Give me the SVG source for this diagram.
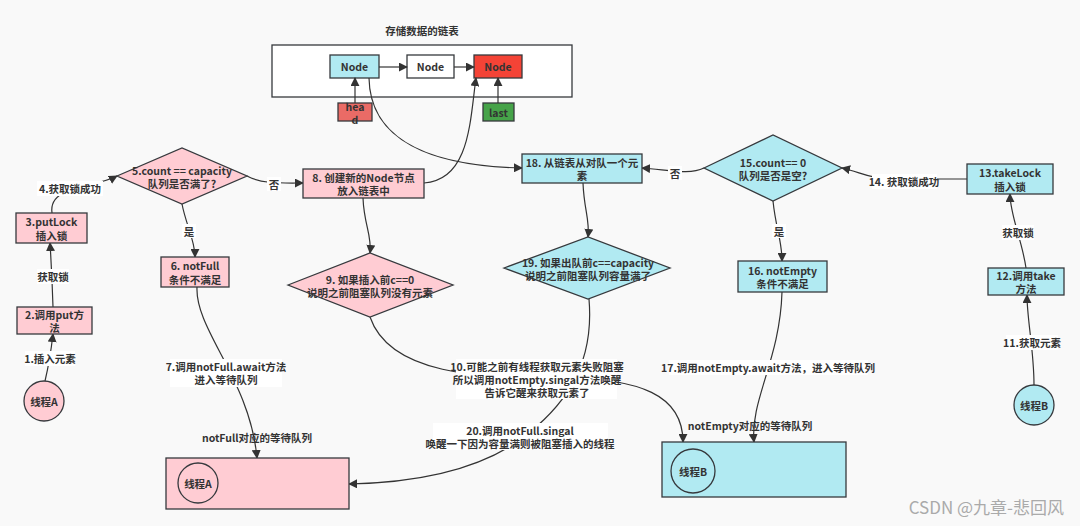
<svg xmlns="http://www.w3.org/2000/svg" width="1080" height="526" viewBox="0 0 1080 526">
<defs>
<marker id="arr" viewBox="0 0 10 10" refX="9" refY="5" markerWidth="9" markerHeight="9" markerUnits="userSpaceOnUse" orient="auto">
<path d="M0,0 L10,5 L0,10 Z" fill="#333"/>
</marker>
<style>
text{font-family:"Noto Sans CJK SC","Noto Sans",sans-serif;font-size:10.5px;font-weight:bold;fill:#333;text-anchor:middle;dominant-baseline:central}
.pink{fill:#ffccd3;stroke:#36393d;stroke-width:1.3}
.cyan{fill:#b1eaf2;stroke:#36393d;stroke-width:1.3}
.white{fill:#fff;stroke:#36393d;stroke-width:1.3}
.conn path{fill:none;stroke:#333;stroke-width:1.2;marker-end:url(#arr)}
.lbg{fill:#fff}
</style>
</defs>
<rect width="1080" height="526" fill="#f9f9f9"/>

<g id="list">
<text x="422" y="30">存储数据的链表</text>
<rect x="272" y="45" width="300" height="52" fill="#fff" stroke="#36393d" stroke-width="1.3"/>
</g>
<g id="node1"><rect class="cyan" x="330" y="55" width="49" height="23"/><text x="354.5" y="66.5">Node</text></g>
<g id="node2"><rect class="white" x="407" y="55" width="47" height="23"/><text x="430.5" y="66.5">Node</text></g>
<g id="node3"><rect x="474" y="55" width="48" height="23" fill="#f44336" stroke="#36393d" stroke-width="1.3"/><text x="498" y="66.5">Node</text></g>
<g id="head"><rect x="338" y="103" width="34" height="18" fill="#ea6b66" stroke="#36393d" stroke-width="1.3"/><text x="355" y="106">hea<tspan x="355" dy="13">d</tspan></text></g>
<g id="last"><rect x="483" y="103" width="31" height="18" fill="#46a349" stroke="#36393d" stroke-width="1.3"/><text x="498.5" y="112">last</text></g>

<g class="conn" id="connectors">
<path d="M379,67 L407,67"/>
<path d="M454,67 L474,67"/>
<path d="M355,103 L355,78"/>
<path d="M498,103 L498,78"/>
<path d="M369,78 C370,140 430,166 522,168"/>
<path d="M424,183 C470,180 470,120 476,78"/>
<path d="M45,381 Q50,360 53,334"/>
<path d="M53,307 Q52,275 50,243"/>
<path d="M52,213 C48,185 95,188 117,176"/>
<path d="M247,176 C262,184 280,183 303,183"/>
<path d="M182,204 C186,225 195,240 195,257"/>
<path d="M197,287 C195,330 250,380 257,458"/>
<path d="M363,198 C364,225 372,235 370,253"/>
<path d="M370,317 C390,375 480,378 560,378 C640,378 683,395 683,442"/>
<path d="M589,299 C595,370 560,410 520,440 C470,475 400,483 349,484"/>
<path d="M782,292 C780,360 750,400 754,442"/>
<path d="M583,183 C584,210 590,220 588,237"/>
<path d="M704,168 C690,175 670,170 642,168"/>
<path d="M773,201 C776,230 782,240 782,261"/>
<path d="M967,179 L890,179 C870,179 860,172 842,168"/>
<path d="M1026,268 C1022,240 1010,215 1010,194"/>
<path d="M1034,385 C1034,350 1027,320 1027,295"/>
</g>

<g id="labels">
<rect class="lbg" x="37" y="181" width="66" height="15"/><text x="70" y="188">4.获取锁成功</text>
<rect class="lbg" x="37" y="269" width="32" height="15"/><text x="53" y="276">获取锁</text>
<rect class="lbg" x="25" y="351" width="50" height="15"/><text x="50" y="358">1.插入元素</text>
<rect class="lbg" x="267" y="177" width="14" height="14"/><text x="274" y="184">否</text>
<rect class="lbg" x="182" y="224" width="14" height="14"/><text x="189" y="231">是</text>
<rect class="lbg" x="170" y="359" width="112" height="28"/><text x="226" y="366">7.调用notFull.await方法<tspan x="226" dy="13">进入等待队列</tspan></text>
<text x="257" y="437">notFull对应的等待队列</text>
<rect class="lbg" x="456" y="359" width="161" height="40"/><text x="537" y="366">10.可能之前有线程获取元素失败阻塞<tspan x="537" dy="13">所以调用notEmpty.singal方法唤醒</tspan><tspan x="537" dy="13">告诉它醒来获取元素了</tspan></text>
<rect class="lbg" x="433" y="423" width="175" height="27"/><text x="520" y="430">20.调用notFull.singal<tspan x="520" dy="13">唤醒一下因为容量满则被阻塞插入的线程</tspan></text>
<rect class="lbg" x="669" y="360" width="199" height="15"/><text x="768" y="367">17.调用notEmpty.await方法，进入等待队列</text>
<text x="750" y="425">notEmpty对应的等待队列</text>
<rect class="lbg" x="668" y="166" width="14" height="14"/><text x="675" y="173">否</text>
<rect class="lbg" x="772" y="224" width="14" height="14"/><text x="779" y="231">是</text>
<rect class="lbg" x="872" y="174" width="65" height="15"/><text x="904" y="181">14. 获取锁成功</text>
<rect class="lbg" x="1002" y="225" width="32" height="15"/><text x="1018" y="232">获取锁</text>
<rect class="lbg" x="1006" y="335" width="52" height="15"/><text x="1032" y="342">11.获取元素</text>
</g>

<g id="box2"><rect class="pink" x="17" y="307" width="75" height="27"/><text x="54.5" y="314">2.调用put方<tspan x="54.5" dy="13">法</tspan></text></g>
<g id="box3"><rect class="pink" x="16" y="213" width="71" height="30"/><text x="51.5" y="221.5">3.putLock<tspan x="51.5" dy="13">插入锁</tspan></text></g>
<g id="threadA"><circle class="pink" cx="44" cy="401" r="20"/><text x="44" y="401">线程A</text></g>
<g id="dia5"><path class="pink" d="M117,176 L182,148 L247,176 L182,204 Z"/><text x="182" y="170">5.count == capacity<tspan x="182" dy="13">队列是否满了?</tspan></text></g>
<g id="box6"><rect class="pink" x="161" y="257" width="68" height="30"/><text x="195" y="265.5">6. notFull<tspan x="195" dy="13">条件不满足</tspan></text></g>
<g id="box8"><rect class="pink" x="303" y="169" width="121" height="29"/><text x="363.5" y="177">8. 创建新的Node节点<tspan x="363.5" dy="13">放入链表中</tspan></text></g>
<g id="dia9"><path class="pink" d="M288,285 L370,253 L453,285 L370,317 Z"/><text x="370" y="279">9. 如果插入前c==0<tspan x="370" dy="13">说明之前阻塞队列没有元素</tspan></text></g>
<g id="queueA"><rect class="pink" x="166" y="458" width="183" height="51"/><circle class="pink" cx="198" cy="483" r="20"/><text x="198" y="483">线程A</text></g>

<g id="box18"><rect class="cyan" x="522" y="154" width="120" height="29"/><text x="582" y="162">18. 从链表从对队一个元<tspan x="582" dy="13">素</tspan></text></g>
<g id="dia19"><path class="cyan" d="M504,268 L588,237 L670,268 L588,299 Z"/><text x="588" y="262">19. 如果出队前c==capacity<tspan x="588" dy="13">说明之前阻塞队列容量满了</tspan></text></g>
<g id="dia15"><path class="cyan" d="M704,168 L773,135 L842,168 L773,201 Z"/><text x="773" y="162">15.count== 0<tspan x="773" dy="13">队列是否是空?</tspan></text></g>
<g id="box16"><rect class="cyan" x="738" y="261" width="89" height="31"/><text x="782.5" y="270">16. notEmpty<tspan x="782.5" dy="13">条件不满足</tspan></text></g>
<g id="box13"><rect class="cyan" x="967" y="164" width="86" height="30"/><text x="1010" y="172.5">13.takeLock<tspan x="1010" dy="13">插入锁</tspan></text></g>
<g id="box12"><rect class="cyan" x="988" y="268" width="76" height="27"/><text x="1026" y="275">12.调用take<tspan x="1026" dy="13">方法</tspan></text></g>
<g id="threadB"><circle class="cyan" cx="1034" cy="405" r="20"/><text x="1034" y="405">线程B</text></g>
<g id="queueB"><rect class="cyan" x="662" y="442" width="184" height="55"/><circle class="cyan" cx="693" cy="471" r="22"/><text x="693" y="471">线程B</text></g>

<text x="1064" y="506" style="font-size:17px;font-weight:normal;fill:#aaa;text-anchor:end">CSDN @九章-悲回风</text>
</svg>
